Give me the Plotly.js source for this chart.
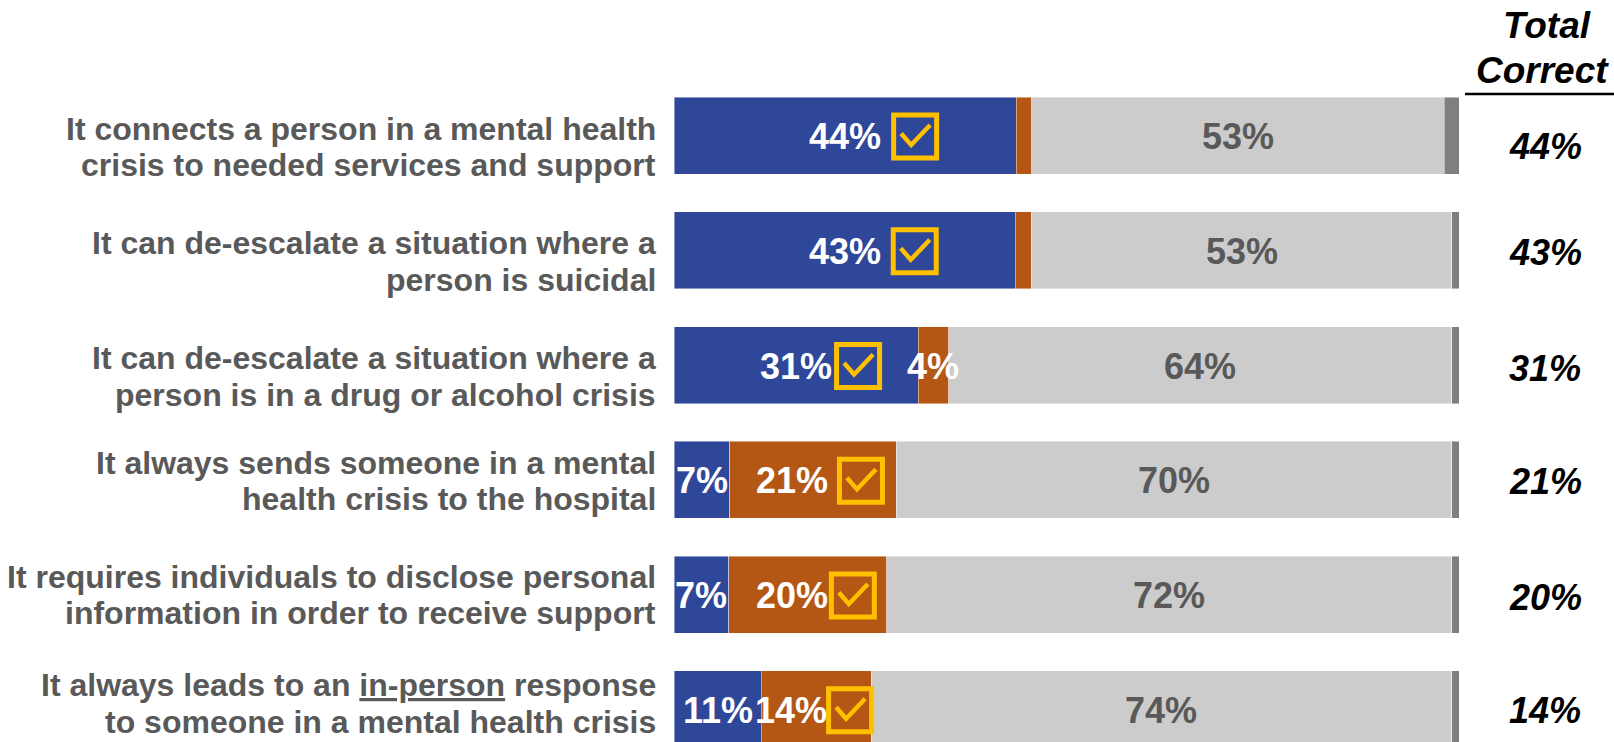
<!DOCTYPE html>
<html>
<head>
<meta charset="utf-8">
<script src="https://cdn.plot.ly/plotly-3.0.1.min.js"></script>
<style>html,body{margin:0;padding:0;background:#fff;}#chart{width:1614px;height:742px;}</style>
</head>
<body>
<div id="chart"></div>
<script>
// ---- data ----
const categories = [
  'It connects a person in a mental health<br>crisis to needed services and support',
  'It can de-escalate a situation where a<br>person is suicidal',
  'It can de-escalate a situation where a<br>person is in a drug or alcohol crisis',
  'It always sends someone in a mental<br>health crisis to the hospital',
  'It requires individuals to disclose personal<br>information in order to receive support',
  'It always leads to an <u>in-person</u> response<br>to someone in a mental health crisis'
];
// segment lengths (% of respondents)
const trueVals    = [43.6, 43.5, 31.1, 7.1, 7.0, 11.1];
const falseVals   = [2.0, 2.0, 3.9, 21.2, 20.1, 14.0];
const notSureVals = [52.5, 53.6, 64.1, 70.8, 72.0, 74.0];
const otherVals   = [1.9, 0.9, 0.9, 0.9, 0.9, 0.9];
// printed labels
const trueLabels    = [44, 43, 31, 7, 7, 11];
const falseLabels   = [null, null, 4, 21, 20, 14];
const notSureLabels = [53, 53, 64, 70, 72, 74];
const totalCorrect  = [44, 43, 31, 21, 20, 14];
// which segment is the correct answer (0 = true, 1 = false)
const correctSeg = [0, 0, 0, 1, 1, 1];

// ---- styling / placement ----
const FONT = 'Liberation Sans, Arial, Helvetica, sans-serif';
const colors = ['#2F4799', '#B45714', '#CCCCCC', '#7F7F7F'];
const labelColors = ['#FFFFFF', '#FFFFFF', '#595959', null];
const checkShift = [70, 70, 62, 48, 45, 34];      // px from segment centre
const labelShift = [0, 0, 0, -21, -16, -25];      // px shift of the correct label
const totalYShift = [-11, -2, -3, -2, -3, -1];
const catLine1Shift = [7, 7, 7, 17, 18, 24];      // px (up) of first label line
const CAT_LINE_GAP = 36.5;

const rows = categories.map((_, i) => i);
const series = [trueVals, falseVals, notSureVals, otherVals];
const seriesLabels = [trueLabels, falseLabels, notSureLabels, null];
const names = ['True', 'False', 'Not sure', 'Refused'];

const traces = series.map((vals, k) => ({
  type: 'bar', orientation: 'h', x: vals, y: rows, name: names[k],
  width: 0.671,
  marker: {color: colors[k], line: {width: 0.8, color: 'rgba(255,255,255,0.55)'}},
  hoverinfo: 'skip', textposition: 'none', showlegend: false
}));

const annotations = [];
const shapes = [];

rows.forEach(i => {
  let start = 0;
  series.forEach((vals, k) => {
    const center = start + vals[i] / 2;
    const labs = seriesLabels[k];
    if (labs && labs[i] !== null) {
      const isCorrect = correctSeg[i] === k;
      annotations.push({
        x: center, y: i, xref: 'x', yref: 'y', showarrow: false,
        xanchor: 'center', yanchor: 'middle',
        text: labs[i] + '%', xshift: isCorrect ? labelShift[i] : 0, yshift: -1,
        font: {family: FONT, size: 36, color: labelColors[k], weight: 'bold'}
      });
    }
    if (correctSeg[i] === k) {
      const s = checkShift[i];
      shapes.push({
        type: 'rect', xref: 'x', yref: 'y', xsizemode: 'pixel', ysizemode: 'pixel',
        xanchor: center, yanchor: i,
        x0: s - 21.5, x1: s + 21.5, y0: -22.5, y1: 20.5,
        line: {color: '#FFC000', width: 5}, fillcolor: 'rgba(0,0,0,0)'
      });
      shapes.push({
        type: 'path', xref: 'x', yref: 'y', xsizemode: 'pixel', ysizemode: 'pixel',
        xanchor: center, yanchor: i,
        path: `M ${s - 14},2 L ${s - 4},-9.5 L ${s + 15},10.5`,
        line: {color: '#FFC000', width: 4.5}
      });
    }
    start += vals[i];
  });

  // category labels (one annotation per line for tight line spacing)
  categories[i].split('<br>').forEach((line, j) => {
    annotations.push({
      x: 0, y: i, xref: 'paper', yref: 'y', xanchor: 'right', yanchor: 'middle',
      showarrow: false,
      xshift: -16, yshift: catLine1Shift[i] - j * CAT_LINE_GAP,
      text: line,
      font: {family: FONT, size: 32, color: '#595959', weight: 'bold'}
    });
  });

  // total correct column
  annotations.push({
    x: 1.1096, y: i, xref: 'paper', yref: 'y', showarrow: false,
    xanchor: 'center', yanchor: 'middle',
    yshift: totalYShift[i],
    text: totalCorrect[i] + '%',
    font: {family: FONT, size: 36, color: '#000000', weight: 'bold', style: 'italic'}
  });
});

// header
annotations.push({
  x: 1.1121, y: 1, xref: 'paper', yref: 'paper', showarrow: false,
  xanchor: 'center', yanchor: 'middle', yshift: -5,
  text: 'Total', font: {family: FONT, size: 37, color: '#000', weight: 'bold', style: 'italic'}
});
annotations.push({
  x: 1.107, y: 1, xref: 'paper', yref: 'paper', showarrow: false,
  xanchor: 'center', yanchor: 'middle', yshift: -50,
  text: 'Correct', font: {family: FONT, size: 37, color: '#000', weight: 'bold', style: 'italic'}
});
shapes.push({
  type: 'line', xref: 'paper', yref: 'paper', x0: 1.0076, x1: 1.2, y0: 0.8975, y1: 0.8975,
  line: {color: '#000', width: 2.5}
});

const layout = {
  width: 1614, height: 742,
  margin: {l: 674, r: 155, t: 20, b: 0, pad: 0},
  barmode: 'stack', bargap: 0,
  paper_bgcolor: '#fff', plot_bgcolor: '#fff',
  xaxis: {range: [0, 100], visible: false, fixedrange: true},
  yaxis: {range: [5.2854, -1.0065], visible: false, fixedrange: true, type: 'linear'},
  annotations: annotations, shapes: shapes,
  font: {family: FONT}
};

Plotly.newPlot('chart', traces, layout, {displayModeBar: false, staticPlot: true});
</script>
</body>
</html>
